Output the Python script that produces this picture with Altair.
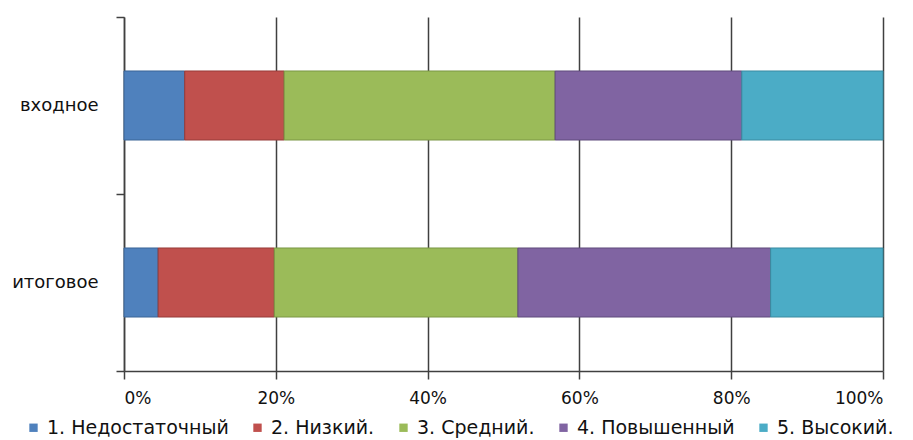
import altair as alt
import pandas as pd

categories = ["входное", "итоговое"]
levels = ["1. Недостаточный", "2. Низкий.", "3. Средний.", "4. Повышенный", "5. Высокий."]
vhodnoe = [8.0, 13.1, 35.7, 24.6, 18.6]
itogovoe = [4.5, 15.3, 32.1, 33.3, 14.8]
colors = ["#4F81BD", "#C0504D", "#9BBB59", "#8064A2", "#4BACC6"]
edges = ["#3A6496", "#963A38", "#7A9644", "#5F4A7C", "#3A8BA0"]

rows = []
for cat, vals in zip(categories, [vhodnoe, itogovoe]):
    for i, (lev, v) in enumerate(zip(levels, vals)):
        rows.append({"cat": cat, "level": lev, "ord": i, "value": v})
df = pd.DataFrame(rows)

FONT = "DejaVu Sans"

chart = alt.Chart(df).mark_bar(strokeWidth=1, height={"band": 0.39}).encode(
    y=alt.Y("cat:N", sort=categories, title=None,
            scale=alt.Scale(paddingInner=0, paddingOuter=0),
            axis=alt.Axis(tickBand="extent", ticks=True, tickSize=8, tickColor="#404040",
                          tickWidth=1.5, domainColor="#404040", domainWidth=1.5,
                          labelFont=FONT, labelFontSize=18, labelLimit=0,
                          labelColor="#111111", labelPadding=18, grid=False)),
    x=alt.X("value:Q", stack="normalize", title=None,
            scale=alt.Scale(domain=[0, 1]),
            axis=alt.Axis(format="%", values=[0, 0.2, 0.4, 0.6, 0.8, 1.0],
                          grid=True, gridColor="#404040", gridWidth=1.5,
                          tickSize=8, tickColor="#404040", tickWidth=1.5,
                          domainColor="#404040", domainWidth=1.5,
                          labelFont=FONT, labelFontSize=17, labelColor="#111111",
                          labelPadding=11)),
    color=alt.Color("level:N", sort=levels, title=None,
                    scale=alt.Scale(domain=levels, range=colors),
                    legend=alt.Legend(orient="none", legendX=-100, legendY=401,
                                      direction="horizontal", symbolType="square",
                                      symbolSize=70, symbolStrokeWidth=0,
                                      labelFont=FONT, labelFontSize=19,
                                      labelLimit=0, labelOffset=4,
                                      labelColor="#111111", columnPadding=19)),
    stroke=alt.Stroke("level:N", sort=levels,
                      scale=alt.Scale(domain=levels, range=edges), legend=None),
    order=alt.Order("ord:Q"),
).properties(
    width=759, height=354,
    padding={"left": 116, "top": 9, "right": 22, "bottom": 67},
    autosize=alt.AutoSizeParams(type="none"),
).configure_view(stroke=None)

chart.save("out.html", embed_options={"renderer": "svg", "actions": False})
